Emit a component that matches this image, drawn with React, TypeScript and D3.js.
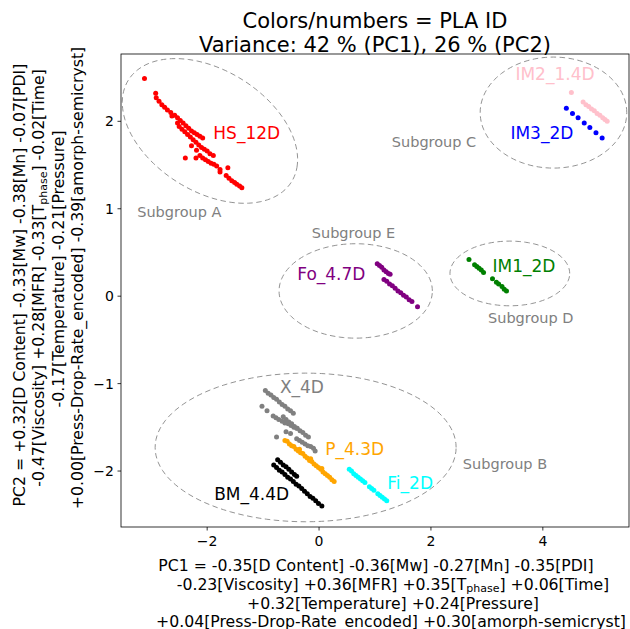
import React from 'react';
import * as d3 from 'd3';

type Pt = [number, number];

// axis setup
const xDomain: Pt = [-3.54, 5.54];
const yDomain: Pt = [-2.64, 2.77];
const xTicks = [-2, 0, 2, 4];
const yTicks = [-2, -1, 0, 1, 2];

// PLA groups (PC1, PC2)
const hs12d: Pt[] = [
  [-3.12, 2.49],
  [-2.92, 2.32], [-2.91, 2.27], [-2.86, 2.23], [-2.81, 2.19], [-2.76, 2.16], [-2.71, 2.13], [-2.65, 2.1],
  [-2.63, 2.06], [-2.58, 2.07], [-2.53, 2.04], [-2.48, 2.01], [-2.43, 1.98], [-2.38, 1.95], [-2.33, 1.92],
  [-2.28, 1.89], [-2.23, 1.87], [-2.18, 1.85], [-2.13, 1.83], [-2.08, 1.81],
  [-2.53, 1.98], [-2.5, 1.94], [-2.45, 1.91], [-2.4, 1.88], [-2.35, 1.85], [-2.3, 1.82], [-2.25, 1.79],
  [-2.2, 1.76], [-2.15, 1.73], [-2.1, 1.7], [-2.05, 1.68], [-2.0, 1.66], [-1.95, 1.63], [-1.89, 1.61],
  [-2.13, 1.61], [-2.08, 1.58], [-2.03, 1.56], [-1.98, 1.54], [-1.93, 1.52], [-1.88, 1.51], [-1.83, 1.49],
  [-2.28, 1.72], [-2.19, 1.67], [-2.39, 1.58], [-2.2, 1.58], [-1.77, 1.45], [-1.63, 1.47], [-1.77, 1.42],
  [-1.66, 1.38], [-1.61, 1.35], [-1.56, 1.32], [-1.51, 1.3], [-1.47, 1.28], [-1.42, 1.26], [-1.38, 1.24],
];
const im3_2d: Pt[] = [
  [4.42, 2.15], [4.53, 2.09], [4.63, 2.04], [4.74, 1.98], [4.84, 1.93], [4.95, 1.87], [5.06, 1.81],
];
const im2_14d: Pt[] = [
  [4.51, 2.33], [4.72, 2.22], [4.77, 2.19], [4.82, 2.17], [4.87, 2.14], [4.92, 2.12], [4.97, 2.09],
  [5.02, 2.07], [5.07, 2.04], [5.11, 2.02], [5.15, 2.0],
];
const im1_2d: Pt[] = [
  [2.68, 0.42], [2.78, 0.36], [2.82, 0.34], [2.86, 0.32], [2.9, 0.3], [2.94, 0.27],
  [3.1, 0.2], [3.17, 0.16], [3.21, 0.14], [3.27, 0.11], [3.31, 0.08], [3.35, 0.06],
];
const fo47d: Pt[] = [
  [1.04, 0.37], [1.08, 0.35], [1.12, 0.33], [1.16, 0.3], [1.2, 0.28], [1.24, 0.26], [1.27, 0.25],
  [1.16, 0.19], [1.21, 0.17], [1.26, 0.14], [1.31, 0.12], [1.36, 0.09], [1.41, 0.06], [1.46, 0.04],
  [1.51, 0.01], [1.56, -0.01], [1.61, -0.04], [1.66, -0.06], [1.76, -0.12],
];
const x4d: Pt[] = [
  [-0.96, -1.08], [-0.91, -1.11], [-0.86, -1.13], [-0.81, -1.16], [-0.76, -1.18], [-0.71, -1.21],
  [-0.66, -1.24], [-0.61, -1.26], [-0.56, -1.29], [-0.51, -1.31], [-0.46, -1.34],
  [-1.02, -1.26], [-0.93, -1.31],
  [-0.82, -1.37], [-0.77, -1.39], [-0.72, -1.41], [-0.66, -1.43], [-0.61, -1.45], [-0.55, -1.46],
  [-0.5, -1.48], [-0.45, -1.5], [-0.4, -1.51],
  [-0.64, -1.38], [-0.59, -1.41], [-0.54, -1.44], [-0.49, -1.46], [-0.44, -1.49], [-0.39, -1.51],
  [-0.34, -1.54], [-0.29, -1.56], [-0.24, -1.59], [-0.19, -1.61],
  [-0.4, -1.63], [-0.35, -1.65], [-0.3, -1.67], [-0.25, -1.69], [-0.2, -1.71], [-0.15, -1.72],
  [-0.1, -1.74], [-0.07, -1.77],
  [-0.76, -1.61], [-0.59, -1.55], [-0.51, -1.57],
];
const p43d: Pt[] = [
  [-0.61, -1.65], [-0.57, -1.66], [-0.53, -1.69], [-0.49, -1.71], [-0.45, -1.72], [-0.41, -1.75],
  [-0.37, -1.77], [-0.35, -1.75], [-0.33, -1.79], [-0.29, -1.8], [-0.25, -1.83], [-0.21, -1.85],
  [-0.17, -1.88], [-0.15, -1.86], [-0.13, -1.89], [-0.09, -1.92], [-0.05, -1.94], [-0.01, -1.96],
  [0.03, -1.98], [0.05, -1.97], [0.07, -2.01], [0.11, -2.03], [0.15, -2.05], [0.19, -2.07],
  [0.23, -2.1], [0.27, -2.12],
];
const bm44d: Pt[] = [
  [-0.74, -1.87], [-0.69, -1.9], [-0.64, -1.93], [-0.59, -1.95], [-0.54, -1.98], [-0.49, -2.01],
  [-0.44, -2.04], [-0.4, -2.06],
  [-0.81, -1.93], [-0.76, -1.96], [-0.71, -1.99], [-0.66, -2.01], [-0.61, -2.04], [-0.56, -2.07],
  [-0.51, -2.09], [-0.46, -2.12], [-0.41, -2.15], [-0.36, -2.17], [-0.31, -2.2], [-0.26, -2.23],
  [-0.21, -2.26], [-0.16, -2.29], [-0.11, -2.31], [-0.06, -2.34], [-0.01, -2.37], [0.05, -2.4],
];
const fi2d: Pt[] = [
  [0.54, -1.98], [0.58, -2.0], [0.62, -2.03], [0.66, -2.05], [0.7, -2.07], [0.74, -2.09], [0.78, -2.11],
  [0.82, -2.13], [0.9, -2.18], [0.94, -2.2], [0.98, -2.22], [1.05, -2.26], [1.09, -2.28], [1.13, -2.3],
  [1.17, -2.32], [1.21, -2.34],
];

const plaNames = ['HS_12D', 'IM3_2D', 'IM2_1.4D', 'IM1_2D', 'Fo_4.7D', 'X_4D', 'P_4.3D', 'BM_4.4D', 'Fi_2D'];
const plaPoints = [hs12d, im3_2d, im2_14d, im1_2d, fo47d, x4d, p43d, bm44d, fi2d];
const plaColors = ['red', 'blue', 'pink', 'green', 'purple', 'gray', 'orange', 'black', 'cyan'];
// where each PLA ID text sits (data coords, start of text / baseline)
const plaLabelPos: Pt[] = [
  [-1.89, 1.8], [3.42, 1.8], [3.51, 2.476], [3.1, 0.278], [-0.39, 0.183],
  [-0.7, -1.11], [0.11, -1.817], [-1.875, -2.33], [1.22, -2.21],
];

// subgroup ellipses: center, semi axes (data units), angle in degrees
const subNames = ['Subgroup A', 'Subgroup B', 'Subgroup C', 'Subgroup D', 'Subgroup E'];
const subCenters: Pt[] = [[-1.95, 1.89], [-0.24, -1.73], [4.19, 2.1], [3.41, 0.26], [0.655, 0.06]];
const subRadii: Pt[] = [[1.61, 0.74], [2.69, 0.85], [1.31, 0.635], [1.07, 0.37], [1.37, 0.54]];
const subAngles = [-15, 0, 0, 0, 0];
const subLabelPos: Pt[] = [[-3.25, 0.91], [2.57, -1.98], [1.3, 1.71], [3.02, -0.31], [-0.13, 0.67]];

const W = 630;
const H = 629;
const left = 121, right = 629, top = 54, bottom = 527;
const font = 'DejaVu Sans, sans-serif';

const x = d3.scaleLinear().domain(xDomain).range([left, right]);
const y = d3.scaleLinear().domain(yDomain).range([bottom, top]);

const fmt = (v: number) => (v < 0 ? '\u2212' + Math.abs(v) : String(v));

function ellipsePath(c: Pt, r: Pt, angle: number) {
  const a = (angle * Math.PI) / 180;
  const ts = d3.range(0, 361, 3).map((d) => (d * Math.PI) / 180);
  const line = d3.line<number>()
    .x((t) => x(c[0] + r[0] * Math.cos(t) * Math.cos(a) - r[1] * Math.sin(t) * Math.sin(a)))
    .y((t) => y(c[1] + r[0] * Math.cos(t) * Math.sin(a) + r[1] * Math.sin(t) * Math.cos(a)));
  return line(ts) || '';
}

const Sub = () => (
  <tspan fontSize={11} dy={2.5}>phase</tspan>
);

export default function App() {
  return (
    <svg width={W} height={H} style={{ position: 'absolute', left: 0, top: 0, background: 'white' }} fontFamily={font}>
      <rect x={0} y={0} width={W} height={H} fill="white" />

      {/* title */}
      <text x={375} y={28} textAnchor="middle" fontSize={21}>Colors/numbers = PLA ID</text>
      <text x={375} y={51.5} textAnchor="middle" fontSize={21}>Variance: 42 % (PC1), 26 % (PC2)</text>

      {/* points */}
      {plaPoints.map((pts, i) => (
        <g key={plaNames[i]} fill={plaColors[i]}>
          {pts.map((p, j) => (
            <circle key={j} cx={x(p[0])} cy={y(p[1])} r={2.5} />
          ))}
        </g>
      ))}

      {/* subgroup ellipses */}
      {subNames.map((n, i) => (
        <g key={n}>
          <path d={ellipsePath(subCenters[i], subRadii[i], subAngles[i])} fill="none"
            stroke="gray" strokeOpacity={0.85} strokeWidth={1} strokeDasharray="5.5,3.5" />
          <text x={x(subLabelPos[i][0])} y={y(subLabelPos[i][1])} fontSize={14.5} fill="gray">{n}</text>
        </g>
      ))}

      {/* PLA labels */}
      {plaNames.map((n, i) => (
        <text key={n} x={x(plaLabelPos[i][0])} y={y(plaLabelPos[i][1])} fontSize={17} fill={plaColors[i]}>{n}</text>
      ))}

      {/* frame */}
      <rect x={left} y={top} width={right - left} height={bottom - top} fill="none" stroke="black" strokeWidth={0.8} />

      {/* x ticks */}
      {xTicks.map((t) => (
        <g key={t}>
          <line x1={x(t)} x2={x(t)} y1={bottom} y2={bottom + 3.5} stroke="black" strokeWidth={0.8} />
          <text x={x(t)} y={bottom + 19} textAnchor="middle" fontSize={14}>{fmt(t)}</text>
        </g>
      ))}
      {/* y ticks */}
      {yTicks.map((t) => (
        <g key={t}>
          <line x1={left - 3.5} x2={left} y1={y(t)} y2={y(t)} stroke="black" strokeWidth={0.8} />
          <text x={left - 7} y={y(t) + 5} textAnchor="end" fontSize={14}>{fmt(t)}</text>
        </g>
      ))}

      {/* x label */}
      <g fontSize={15.7}>
        <text x={376} y={571} textAnchor="middle">PC1 = -0.35[D Content] -0.36[Mw] -0.27[Mn] -0.35[PDI]</text>
        <text x={393} y={589.5} textAnchor="middle">-0.23[Viscosity] +0.36[MFR] +0.35[T<Sub /><tspan dy={-2.5}>] +0.06[Time]</tspan></text>
        <text x={393} y={608.5} textAnchor="middle">+0.32[Temperature] +0.24[Pressure]</text>
        <text x={391} y={626.5} textAnchor="middle">+0.04[Press-Drop-Rate_encoded] +0.30[amorph-semicryst]</text>
      </g>

      {/* y label */}
      <g fontSize={15.7}>
        <text transform="translate(24.5,285) rotate(-90)" textAnchor="middle">PC2 = +0.32[D Content] -0.33[Mw] -0.38[Mn] -0.07[PDI]</text>
        <text transform="translate(44,278) rotate(-90)" textAnchor="middle">-0.47[Viscosity] +0.28[MFR] -0.33[T<Sub /><tspan dy={-2.5}>] -0.02[Time]</tspan></text>
        <text transform="translate(63.5,269) rotate(-90)" textAnchor="middle">-0.17[Temperature] -0.21[Pressure]</text>
        <text transform="translate(83,278) rotate(-90)" textAnchor="middle">+0.00[Press-Drop-Rate_encoded] -0.39[amorph-semicryst]</text>
      </g>
    </svg>
  );
}
